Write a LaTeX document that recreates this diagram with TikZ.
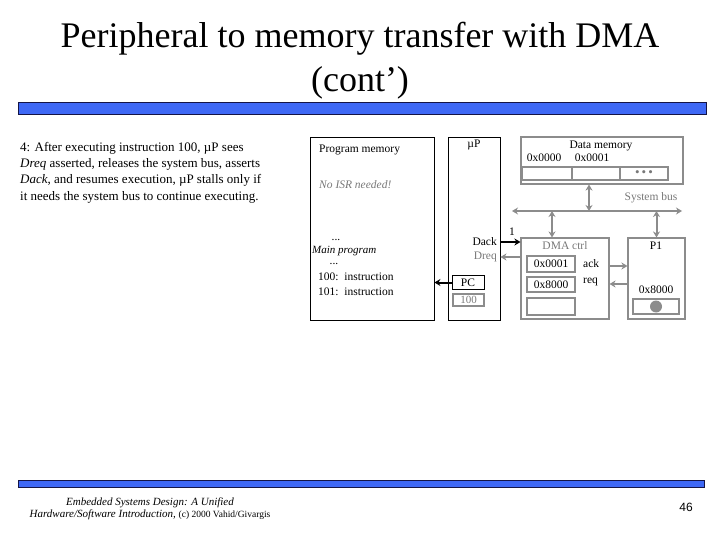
\documentclass[tikz,border=0pt]{standalone}
\usepackage{fontspec}
\setmainfont{Liberation Serif}
\newfontfamily\sansf{Liberation Sans}
\usetikzlibrary{arrows.meta}
\definecolor{gline}{RGB}{140,140,140}
\definecolor{gtext}{RGB}{120,120,120}
\definecolor{barblue}{RGB}{62,104,245}
\definecolor{barline}{RGB}{20,20,70}
\tikzset{
  bbox/.style={draw=black, line width=0.9pt, rectangle, inner sep=0pt},
  gbox/.style={draw=gline, line width=1.1pt, rectangle, inner sep=0pt},
  lbl/.style={inner sep=0pt, font=\fontsize{11.5}{13}\selectfont},
  glbl/.style={lbl, text=gtext},
  garrow/.style={draw=gline, line width=2pt, -{Stealth[length=6pt,width=7pt]}},
  gdarrow/.style={draw=gline, line width=2pt, {Stealth[length=6pt,width=7pt]}-{Stealth[length=6pt,width=7pt]}},
  karrow/.style={draw=black, line width=2pt, -{Stealth[length=6pt,width=7pt]}},
  bar/.style={draw=barline, line width=0.8pt, fill=barblue}
}
\begin{document}
\begin{tikzpicture}[x=1pt,y=-1pt]
\useasboundingbox (0,0) rectangle (720,540);
% title
\node (t1) at (360,39) {\fontsize{36}{40}\selectfont Peripheral to memory transfer with DMA};
\node (t2) at (360,83) {\fontsize{36}{40}\selectfont (cont’)};
\fill[bar] (18,102) rectangle (706,114);
\fill[bar] (18,480) rectangle (704,487);
% left text
\node[anchor=north west, inner sep=0pt, align=left, font=\fontsize{13}{16.3}\selectfont] (desc) at (20,142)
 {4: After executing instruction 100, µP sees\\
  \textit{Dreq} asserted, releases the system bus, asserts\\
  \textit{Dack}, and resumes execution, µP stalls only if\\
  it needs the system bus to continue executing.};
% program memory
\node[bbox, minimum width=124pt, minimum height=183pt] (pm) at (372,228.5) {};
\node[lbl, anchor=west] (pmt) at (319,150) {Program memory};
\node[glbl, anchor=west, font=\itshape\fontsize{11.5}{13}\selectfont] (isr) at (319,185) {No ISR needed!};
\node[lbl] (d1) at (336,240) {...};
\node[lbl, anchor=west, font=\itshape\fontsize{11}{13}\selectfont] (mp) at (312,251) {Main program};
\node[lbl] (d2) at (334,264) {...};
\node[lbl, anchor=west] (i100) at (318,277) {100:\ \ instruction};
\node[lbl, anchor=west] (i101) at (318,292) {101:\ \ instruction};
% microprocessor
\node[bbox, minimum width=52pt, minimum height=183pt] (up) at (474,228.5) {};
\node[lbl] (upt) at (474,145) {µP};
\node[lbl, anchor=east] (dack) at (497,242) {Dack};
\node[glbl, anchor=east] (dreq) at (497,257) {Dreq};
\node[bbox, minimum width=32pt, minimum height=14pt, font=\fontsize{11.5}{13}\selectfont] (pc) at (468,282.5) {PC};
\node[gbox, minimum width=31pt, minimum height=12pt, text=gtext, font=\fontsize{11}{13}\selectfont] (r100) at (468.5,300) {100};
\draw[karrow] (pc.west) -- (pc.west -| pm.east);
% data memory
\node[gbox, minimum width=162pt, minimum height=47pt] (dm) at (602,160.5) {};
\node[lbl] (dmt) at (601,146) {Data memory};
\node[lbl] (a0) at (544,158) {0x0000};
\node[lbl] (a1) at (592,158) {0x0001};
\node[gbox, minimum width=50pt, minimum height=13pt] (c1) at (547,173.5) {};
\node[gbox, minimum width=48pt, minimum height=13pt] (c2) at (596,173.5) {};
\node[gbox, minimum width=48pt, minimum height=13pt, text=gtext, font=\fontsize{13}{13}\selectfont] (c3) at (644,173.5) {•\,•\,•};
% system bus
\coordinate (busL) at (512,211);
\coordinate (busR) at (682,211);
\draw[gdarrow] (busL) -- (busR);
\node[glbl] (sb) at (651,198) {System bus};
% DMA controller
\node[gbox, minimum width=88pt, minimum height=81pt] (dma) at (565,278.5) {};
\node[glbl] (dmat) at (565,246) {DMA ctrl};
\node[gbox, minimum width=48pt, minimum height=16pt, text=black, font=\fontsize{11.5}{13}\selectfont] (r1) at (551,264) {0x0001};
\node[gbox, minimum width=48pt, minimum height=15pt, text=black, font=\fontsize{11.5}{13}\selectfont] (r2) at (551,284.5) {0x8000};
\node[gbox, minimum width=48pt, minimum height=17pt] (r3) at (551,306.5) {};
\node[lbl, anchor=west] (ack) at (583,264) {ack};
\node[lbl, anchor=west] (req) at (583,282) {req};
% P1
\node[gbox, minimum width=57pt, minimum height=81pt] (p1) at (656.5,278.5) {};
\node[lbl] (p1t) at (656,246) {P1};
\node[lbl] (p1a) at (656,290) {0x8000};
\node[gbox, minimum width=46pt, minimum height=15pt] (p1r) at (656,306.5) {};
\fill[gline] (p1r.center) circle (6pt);
% bus connectors
\draw[gdarrow] (dm.south -| 589,0) -- (busL -| 589,0);
\draw[gdarrow] (busL -| 552,0) -- (dma.north -| 552,0);
\draw[gdarrow] (busL -| p1.north) -- (p1.north);
% handshake
\draw[karrow] (dack.east -| up.east) -- (dack.east -| dma.west);
\node[lbl] (one) at (512,232) {1};
\draw[garrow] (dreq.east -| dma.west) -- (dreq.east -| up.east);
\draw[garrow] (dma.east |- 0,266) -- (p1.west |- 0,266);
\draw[garrow] (p1.west |- 0,284) -- (dma.east |- 0,284);
% footer
\node[align=center, inner sep=0pt, font=\fontsize{11}{12.5}\selectfont] (foot) at (150,509)
 {\textit{Embedded Systems Design: A Unified}\\
  \textit{Hardware/Software Introduction,} {\fontsize{9.5}{12}\selectfont (c) 2000 Vahid/Givargis}};
\node[inner sep=0pt, font=\sansf\fontsize{12}{14}\selectfont] (pg) at (686,507) {46};
\end{tikzpicture}
\end{document}
